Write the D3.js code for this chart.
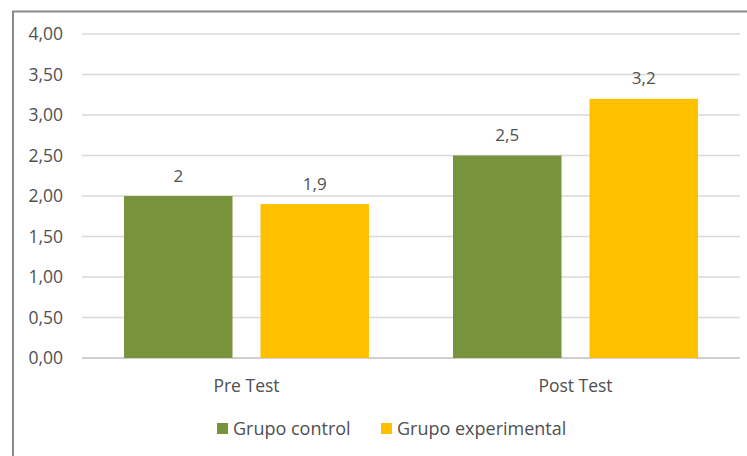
<!DOCTYPE html>
<html>
<head>
<meta charset="utf-8">
<script src="https://cdn.jsdelivr.net/npm/d3@7"></script>
<style>
  body { margin: 0; background: #fff; }
  text { font-family: "Open Sans", sans-serif; fill: #505050; }
</style>
</head>
<body>
<div id="chart"></div>
<script>
// chart data
var categories = ["Pre Test", "Post Test"];
var seriesNames = ["Grupo control", "Grupo experimental"];
var grupoControl = [2, 2.5];
var grupoExperimental = [1.9, 3.2];
var yTicks = [0, 0.5, 1, 1.5, 2, 2.5, 3, 3.5, 4];
var colors = ["#77933c", "#ffc000"];

var svgWidth = 747;
var svgHeight = 456;
var margin = { top: 34, right: 7, bottom: 98, left: 82 };
var width = svgWidth - margin.left - margin.right;
var height = svgHeight - margin.top - margin.bottom;

var locale = d3.formatLocale({ decimal: ",", thousands: ".", grouping: [3], currency: ["", "€"] });
var tickFmt = locale.format(".2f");
var labelFmt = function(v) { return String(v).replace(".", ","); };

var svg = d3.select("#chart").append("svg")
  .attr("width", svgWidth)
  .attr("height", svgHeight);

// outer frame (right/bottom cut off in the picture)
svg.append("path")
  .attr("d", "M13,460 V11.5 H760")
  .attr("fill", "none")
  .attr("stroke", "#8a8a8a")
  .attr("stroke-width", 2);

var chartGroup = svg.append("g")
  .attr("transform", `translate(${margin.left}, ${margin.top})`);

var xScale = d3.scaleBand().domain(categories).range([0, width]);
var xInner = d3.scaleBand().domain(seriesNames).range([0, xScale.bandwidth()])
  .paddingInner(0.205).paddingOuter(0.308);
var yScale = d3.scaleLinear().domain([0, 4]).range([height, 0]);

// gridlines
chartGroup.selectAll(".grid").data(yTicks).enter().append("line")
  .attr("x1", 0).attr("x2", width)
  .attr("y1", d => yScale(d)).attr("y2", d => yScale(d))
  .attr("stroke", d => d === 0 ? "#bfbfbf" : "#d9d9d9")
  .attr("stroke-width", 1.3);

// y tick labels
chartGroup.selectAll(".ytick").data(yTicks).enter().append("text")
  .attr("x", -19)
  .attr("y", d => yScale(d))
  .attr("dy", "0.36em")
  .attr("text-anchor", "end")
  .attr("font-size", "17.5px")
  .text(d => tickFmt(d));

// bars
var rows = categories.map((c, i) => ({
  cat: c,
  values: [
    { name: seriesNames[0], value: grupoControl[i], color: colors[0] },
    { name: seriesNames[1], value: grupoExperimental[i], color: colors[1] }
  ]
}));

var groups = chartGroup.selectAll(".cat").data(rows).enter().append("g")
  .attr("transform", d => `translate(${xScale(d.cat)},0)`);

groups.selectAll("rect").data(d => d.values).enter().append("rect")
  .attr("x", d => xInner(d.name))
  .attr("y", d => yScale(d.value))
  .attr("width", xInner.bandwidth())
  .attr("height", d => height - yScale(d.value))
  .attr("fill", d => d.color);

groups.selectAll(".lbl").data(d => d.values).enter().append("text")
  .attr("x", d => xInner(d.name) + xInner.bandwidth() / 2)
  .attr("y", d => yScale(d.value) - 14.5)
  .attr("text-anchor", "middle")
  .attr("font-size", "17px")
  .text(d => labelFmt(d.value));

// category labels
chartGroup.selectAll(".xlbl").data(categories).enter().append("text")
  .attr("x", d => xScale(d) + xScale.bandwidth() / 2)
  .attr("y", height + 34)
  .attr("text-anchor", "middle")
  .attr("font-size", "17.5px")
  .text(d => d);

// legend
var legendX = [217, 381];
var legend = svg.selectAll(".legend").data(seriesNames).enter().append("g")
  .attr("transform", (d, i) => `translate(${legendX[i]}, 423)`);
legend.append("rect")
  .attr("width", 11).attr("height", 11)
  .attr("fill", (d, i) => colors[i]);
legend.append("text")
  .attr("x", 16).attr("y", 12)
  .attr("font-size", "18px")
  .text(d => d);
</script>
</body>
</html>
